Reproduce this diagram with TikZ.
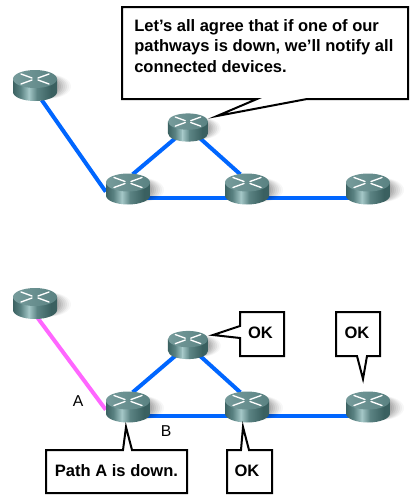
\documentclass[tikz,border=0pt]{standalone}
\usepackage{fontspec}
\setmainfont{Liberation Sans}
\usetikzlibrary{calc}
\definecolor{linkblue}{RGB}{0,102,255}
\definecolor{linkpink}{RGB}{255,102,255}
\definecolor{rdark}{RGB}{58,96,96}
\definecolor{rmid}{RGB}{92,132,132}
\definecolor{rlight}{RGB}{165,200,200}
\definecolor{rtop}{RGB}{118,155,155}
\definecolor{rtopd}{RGB}{90,130,130}
\tikzset{
  px/.style={x=0.75pt,y=-0.75pt},
  routerbox/.style={inner sep=0pt,minimum width=33pt,minimum height=23.25pt},
  smallbox/.style={inner sep=0pt,minimum width=30pt,minimum height=21.5pt},
  bluelink/.style={draw=linkblue,line width=3pt},
  pinklink/.style={draw=linkpink,line width=3pt},
  bubble/.style={draw=black,line width=1.5pt,fill=white,line join=miter,miter limit=10},
  saytext/.style={font=\bfseries\fontsize{12.4}{15.5}\selectfont,inner sep=0pt,text=black},
  plainlabel/.style={font=\fontsize{11.8}{14}\selectfont,inner sep=0pt,text=black},
  xmark/.style={draw=white,line width=1pt,line cap=round}
}
\newcommand{\routerg}[3]{%
  \begin{scope}[shift={(#1,#2)},scale=#3]
    \foreach \d/\o in {2/.07,4/.07,6/.06,8/.05,10/.05,12/.04,14/.03}{
      \fill[black,opacity=\o] (\d,1) ellipse [x radius=22,y radius=12];
    }
    \begin{scope}
      \clip (-22,-6.5) -- (-22,6.5)
        arc[start angle=180,end angle=0,x radius=22,y radius=9]
        -- (22,-6.5) -- cycle;
      \shade[left color=rdark,right color=rmid] (-22.5,-7) rectangle (-14,16);
      \shade[left color=rmid,right color=rlight] (-14.2,-7) rectangle (-6,16);
      \shade[left color=rlight,right color=rmid] (-6.2,-7) rectangle (2,16);
      \shade[left color=rmid,right color=rdark] (1.8,-7) rectangle (16,16);
      \fill[rdark] (15.8,-7) rectangle (22.5,16);
    \end{scope}
    \shade[left color=rtop,right color=rtopd] (0,-6.5) ellipse [x radius=22,y radius=9];
    \draw[xmark] (-14,-11.5) -- (-3,-7.5);
    \draw[xmark] (3,-5.5) -- (14,-1.5);
    \draw[xmark] (14,-11.5) -- (3,-7.5);
    \draw[xmark] (-3,-5.5) -- (-14,-1.5);
  \end{scope}}
\begin{document}
\begin{tikzpicture}[px]
\path[use as bounding box,fill=white] (0,0) rectangle (416,504);

% router anchors, top network
\node[routerbox] (ta) at (35,85.5) {};
\node[smallbox]  (tb) at (188,127.5) {};
\node[routerbox] (tc) at (128,189) {};
\node[routerbox] (td) at (247,189) {};
\node[routerbox] (te) at (368,189) {};
% router anchors, bottom network
\node[routerbox] (ba) at (35,303.5) {};
\node[smallbox]  (bb) at (188,345) {};
\node[routerbox] (bc) at (128,407) {};
\node[routerbox] (bd) at (247,407) {};
\node[routerbox] (be) at (368,407) {};

% links first, routers on top
\draw[bluelink] ([xshift=5pt,yshift=1pt]ta.south) -- ([yshift=-2pt]tc.west);
\draw[bluelink] (tb.center) -- ([xshift=3.5pt,yshift=11pt]tc.center);
\draw[bluelink] (tb.center) -- ([xshift=-5pt,yshift=11pt]td.center);
\draw[bluelink] ([yshift=-6.5pt]tc.center) -- ([yshift=-6.5pt]td.center);
\draw[bluelink] ([yshift=-6.5pt]td.center) -- ([yshift=-6.5pt]te.center);
\draw[pinklink] ([xshift=2pt,yshift=1pt]ba.south) -- ([yshift=-2pt]bc.west);
\draw[bluelink] (bb.center) -- ([xshift=3.5pt,yshift=11pt]bc.center);
\draw[bluelink] (bb.center) -- ([xshift=-5pt,yshift=11pt]bd.center);
\draw[bluelink] ([yshift=-6.5pt]bc.center) -- ([yshift=-6.5pt]bd.center);
\draw[bluelink] ([yshift=-6.5pt]bd.center) -- ([yshift=-6.5pt]be.center);

% routers
\routerg{35}{85.5}{1}
\routerg{188}{127.5}{0.91}
\routerg{128}{189}{1}
\routerg{247}{189}{1}
\routerg{368}{189}{1}
\routerg{35}{303.5}{1}
\routerg{188}{345}{0.91}
\routerg{128}{407}{1}
\routerg{247}{407}{1}
\routerg{368}{407}{1}

% speech bubbles
\draw[bubble] (122,7) -- (408,7) -- (408,99) -- (307,99) -- (217,116) -- (257,99) -- (122,99) -- cycle;
\node[saytext,anchor=north west,align=left] (say) at (134,19) {Let’s all agree that if one of our\\pathways is down, we’ll notify all\\connected devices.};

\draw[bubble] (240,312) -- (284,312) -- (284,356) -- (240,356) -- (240,338) -- (213,335) -- (240,326) -- cycle;
\node[saytext] (okb) at (260.5,333) {OK};

\draw[bubble] (336,312) -- (380,312) -- (380,356) -- (367,356) -- (363,379) -- (357,356) -- (336,356) -- cycle;
\node[saytext] (oke) at (357,333) {OK};

\draw[bubble] (227,450) -- (241,450) -- (243,427) -- (249,450) -- (272,450) -- (272,493) -- (227,493) -- cycle;
\node[saytext] (okd) at (247,470.5) {OK};

\draw[bubble] (46,450) -- (123,450) -- (126,427) -- (132,450) -- (187,450) -- (187,493) -- (46,493) -- cycle;
\node[saytext] (path) at (116.5,470.5) {Path A is down.};

\node[plainlabel] (la) at (78,401) {A};
\node[plainlabel] (lb) at (166,431) {B};
\end{tikzpicture}
\end{document}
